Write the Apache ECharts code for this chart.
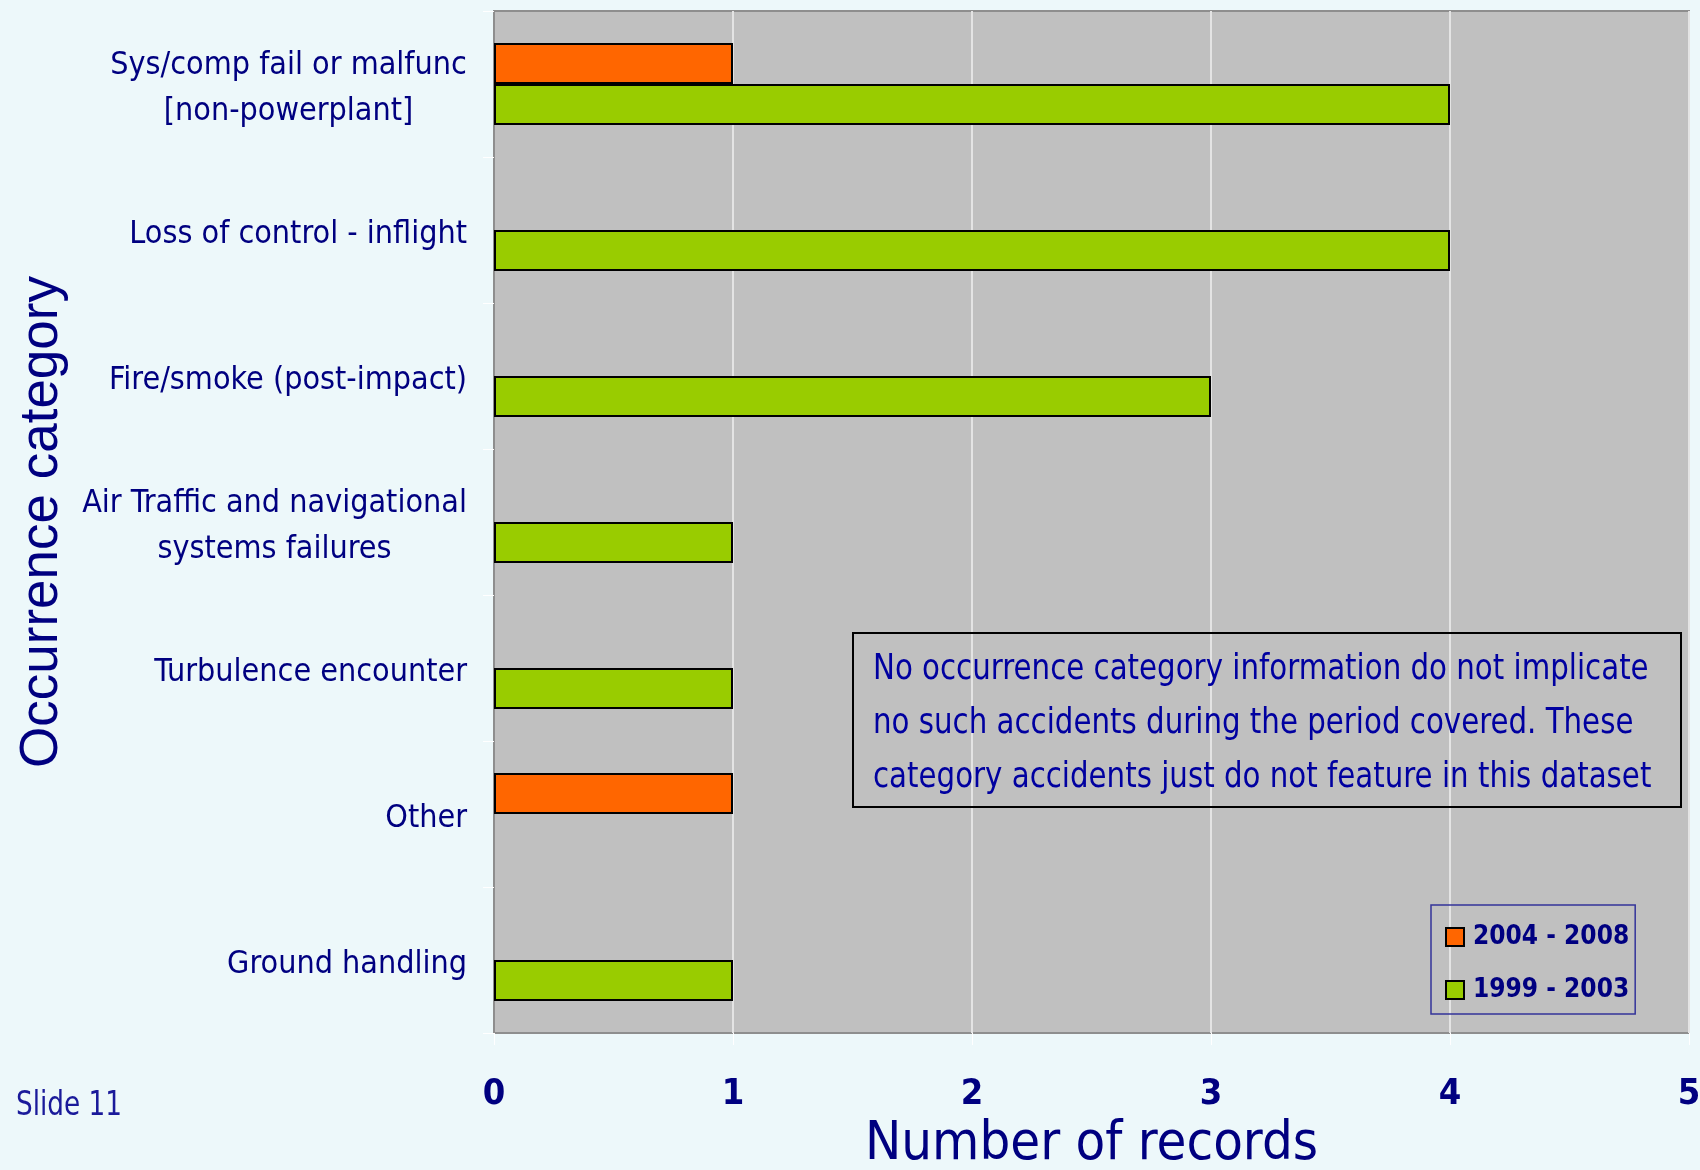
<!DOCTYPE html>
<html>
<head>
<meta charset="utf-8">
<title>Occurrence category</title>
<script src="https://cdn.jsdelivr.net/npm/echarts@6/dist/echarts.min.js"></script>
<style>
  html, body { margin: 0; padding: 0; background: #edf8fa; }
  #chart { width: 1700px; height: 1170px; }
</style>
</head>
<body>
<div id="chart"></div>
<script>
// chart data
var categories = [
    'Sys/comp fail or malfunc\n[non-powerplant]',
    'Loss of control - inflight',
    'Fire/smoke (post-impact)',
    'Air Traffic and navigational\nsystems failures',
    'Turbulence encounter',
    'Other',
    'Ground handling'
];
var seriesNames = ['2004 - 2008', '1999 - 2003'];
var recent = [1, 0, 0, 0, 0, 1, 0];   // 2004 - 2008
var earlier = [4, 4, 3, 1, 1, 0, 1];  // 1999 - 2003
var xTicks = [0, 1, 2, 3, 4, 5];
var noteLines = [
    'No occurrence category information do not implicate',
    'no such accidents during the period covered. These',
    'category accidents just do not feature in this dataset'
];

var NARROW = "'Liberation Sans Narrow', 'Arial Narrow', 'DejaVu Sans Condensed', sans-serif";
var NAVY = '#000080';

// multi-line labels are centred line by line, so give each a fixed width
var ctx = document.createElement('canvas').getContext('2d');
ctx.font = '32px ' + NARROW;
var rich = {};
categories.forEach(function (c, i) {
    var lines = c.split('\n');
    if (lines.length > 1) {
        var w = 0;
        lines.forEach(function (l) { w = Math.max(w, ctx.measureText(l).width); });
        rich['c' + i] = {
            width: Math.ceil(w), align: 'center',
            fontSize: 32, fontFamily: NARROW, color: NAVY, lineHeight: 46
        };
    }
});

var chart = echarts.init(document.getElementById('chart'));
chart.setOption({
    backgroundColor: '#edf8fa',
    animation: false,
    grid: {
        left: 494, top: 11, width: 1195, height: 1022,
        containLabel: false,
        outerBoundsMode: 'none',
        show: true, backgroundColor: '#c0c0c0',
        borderColor: '#8e8e8e', borderWidth: 2
    },
    legend: {
        orient: 'vertical',
        left: 1431, top: 905,
        padding: [15, 6, 7, 14],
        itemWidth: 18, itemHeight: 18, itemGap: 19,
        borderColor: '#333399', borderWidth: 1.5,
        icon: 'rect',
        textStyle: {
            fontSize: 26, fontWeight: 'bold', fontFamily: NARROW,
            color: NAVY, lineHeight: 34, padding: [0, 0, 0, 4]
        },
        data: seriesNames
    },
    xAxis: {
        type: 'value',
        min: xTicks[0], max: xTicks[xTicks.length - 1], interval: 1,
        name: 'Number of records',
        nameLocation: 'middle',
        nameGap: 76,
        nameTextStyle: { fontSize: 54, fontFamily: NARROW, color: NAVY },
        axisLine: { show: false },
        axisTick: { show: true, length: 12, lineStyle: { color: '#ffffff', width: 1 } },
        axisLabel: {
            margin: 44, fontSize: 36, fontWeight: 'bold',
            fontFamily: NARROW, color: NAVY
        },
        splitLine: { show: true, lineStyle: { color: '#e4e4e4', width: 2 } }
    },
    yAxis: {
        type: 'category',
        inverse: true,
        data: categories,
        name: 'Occurrence category',
        nameLocation: 'middle',
        nameGap: 425,
        nameTextStyle: { fontSize: 53, fontFamily: "'Liberation Sans', Arial, sans-serif", color: NAVY },
        axisLine: { show: true, lineStyle: { color: '#8e8e8e', width: 2 } },
        axisTick: { show: true, length: 11, lineStyle: { color: '#ffffff', width: 1 } },
        axisLabel: {
            margin: 27, fontSize: 32, fontFamily: NARROW, color: NAVY,
            lineHeight: 46,
            padding: [10, 0, 0, 0],
            formatter: function (value, idx) {
                var lines = value.split('\n');
                if (lines.length === 1) return value;
                return lines.map(function (l) { return '{c' + idx + '|' + l + '}'; }).join('\n');
            },
            rich: rich
        }
    },
    series: [
        {
            name: seriesNames[0],
            type: 'bar',
            barGap: '0%',
            barCategoryGap: '44%',
            itemStyle: { color: '#ff6600', borderColor: '#000000', borderWidth: 2 },
            data: recent.map(function (v) { return v || null; })
        },
        {
            name: seriesNames[1],
            type: 'bar',
            barGap: '0%',
            barCategoryGap: '44%',
            itemStyle: { color: '#99cc00', borderColor: '#000000', borderWidth: 2 },
            data: earlier.map(function (v) { return v || null; })
        }
    ],
    graphic: [
        {
            type: 'rect',
            z: 50,
            shape: { x: 853, y: 633, width: 828, height: 174 },
            style: { fill: null, stroke: '#000000', lineWidth: 2 }
        },
        {
            type: 'text',
            z: 50,
            x: 873, y: 643,
            scaleX: 0.93,
            style: {
                text: noteLines.join('\n'),
                fontSize: 35, fontFamily: NARROW, fill: '#0000a0',
                lineHeight: 54, verticalAlign: 'top'
            }
        },
        {
            type: 'text',
            x: 16, y: 1106,
            scaleX: 0.86,
            style: {
                text: 'Slide 11',
                fontSize: 34, fontFamily: NARROW, fill: '#1a1a9a',
                verticalAlign: 'middle'
            }
        }
    ]
});
</script>
</body>
</html>
